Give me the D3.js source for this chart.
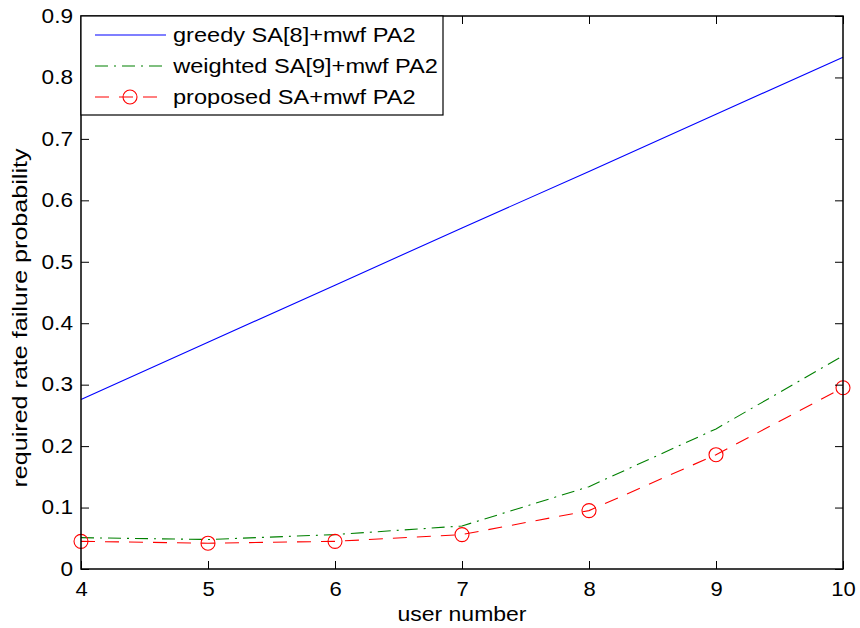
<!DOCTYPE html>
<html><head><meta charset="utf-8">
<script src="https://cdn.jsdelivr.net/npm/d3@7"></script>
<style>
body{margin:0;background:#fff;}
svg{display:block;}
text{font-family:"Liberation Sans",Arial,Helvetica,sans-serif;fill:#000;}
</style></head>
<body>
<svg id="chart" width="860" height="628"></svg>
<script>
const users = [4, 5, 6, 7, 8, 9, 10];
const greedy = [0.276, 0.369, 0.462, 0.555, 0.647, 0.740, 0.833];
const weighted = [0.051, 0.048, 0.056, 0.070, 0.134, 0.228, 0.347];
const proposed = [0.045, 0.042, 0.045, 0.056, 0.095, 0.186, 0.295];
const xTicks = [4, 5, 6, 7, 8, 9, 10];
const yTicks = [0, 0.1, 0.2, 0.3, 0.4, 0.5, 0.6, 0.7, 0.8, 0.9];
const seriesNames = ["greedy SA[8]+mwf PA2", "weighted SA[9]+mwf PA2", "proposed SA+mwf PA2"];
const xTitle = "user number";
const yTitle = "required rate failure probability";

const svg = d3.select("#chart");
const L = 81, R = 843, T = 16, B = 569;
const x = d3.scaleLinear().domain([4, 10]).range([L, R]);
const y = d3.scaleLinear().domain([0, 0.9]).range([B, T]);

const stretch = (sel, s, origin) => sel
  .style("transform-box", "fill-box")
  .style("transform-origin", origin)
  .style("transform", `scaleX(${s})`);

// series lines
const line = d3.line().x((d, i) => x(users[i])).y(d => y(d));
const styles = [
  {data: greedy, color: "#0000ff", dash: null},
  {data: weighted, color: "#008000", dash: "13,6,2,6"},
  {data: proposed, color: "#ff0000", dash: "14,10"}
];
const plot = svg.append("g");
styles.forEach(s => {
  plot.append("path").datum(s.data).attr("d", line)
    .attr("fill", "none").attr("stroke", s.color).attr("stroke-width", 1.1)
    .attr("stroke-dasharray", s.dash);
});
plot.selectAll("circle.m").data(proposed).join("circle").attr("class", "m")
  .attr("cx", (d, i) => x(users[i])).attr("cy", d => y(d)).attr("r", 7)
  .attr("fill", "none").attr("stroke", "#ff0000").attr("stroke-width", 1.1);

// axes
const axB = svg.append("g").attr("transform", `translate(0,${B})`)
  .call(d3.axisBottom(x).tickValues(xTicks).tickSize(-8).tickPadding(13).tickFormat(d3.format("d")));
const axL = svg.append("g").attr("transform", `translate(${L},0)`)
  .call(d3.axisLeft(y).tickValues(yTicks).tickSize(-8).tickPadding(8).tickFormat(d => d === 0 ? "0" : d3.format(".1f")(d)));
const axT = svg.append("g").attr("transform", `translate(0,${T})`)
  .call(d3.axisTop(x).tickValues(xTicks).tickSize(-8).tickFormat(""));
const axR = svg.append("g").attr("transform", `translate(${R},0)`)
  .call(d3.axisRight(y).tickValues(yTicks).tickSize(-8).tickFormat(""));
[axB, axL, axT, axR].forEach(a => {
  a.select(".domain").remove();
  a.selectAll("line").attr("stroke", "#000").attr("stroke-width", 1);
  a.selectAll("text").attr("font-size", 19.5).attr("font-family", "Liberation Sans, Arial, sans-serif").attr("fill", "#000");
});
stretch(axB.selectAll("text"), 1.13, "center center");
stretch(axL.selectAll("text"), 1.16, "right center");
svg.append("rect").attr("x", L).attr("y", T).attr("width", R - L).attr("height", B - T)
  .attr("fill", "none").attr("stroke", "#000").attr("stroke-width", 1.5);

// titles
svg.append("text").attr("x", (L + R) / 2).attr("y", 621).attr("text-anchor", "middle")
  .attr("font-size", 20.5).attr("textLength", 129).attr("lengthAdjust", "spacingAndGlyphs").text(xTitle);
svg.append("text").attr("transform", "translate(27,318) rotate(-90)").attr("text-anchor", "middle")
  .attr("font-size", 20.5).attr("textLength", 339).attr("lengthAdjust", "spacingAndGlyphs").text(yTitle);

// legend
const lg = svg.append("g");
lg.append("rect").attr("x", L).attr("y", T).attr("width", 362).attr("height", 99)
  .attr("fill", "#fff").attr("stroke", "#000").attr("stroke-width", 1.2);
const rowY = [35, 66, 97];
styles.forEach((s, i) => {
  lg.append("line").attr("x1", 95).attr("x2", 166).attr("y1", rowY[i]).attr("y2", rowY[i])
    .attr("stroke", s.color).attr("stroke-width", 1.1).attr("stroke-dasharray", s.dash);
  lg.append("text").attr("x", 173).attr("y", rowY[i]).attr("dy", "0.35em")
    .attr("font-size", 20.5).text(seriesNames[i]);
});
lg.append("circle").attr("cx", 130).attr("cy", rowY[2]).attr("r", 7)
  .attr("fill", "none").attr("stroke", "#ff0000").attr("stroke-width", 1.1);
stretch(lg.selectAll("text"), 1.15, "left center");
</script>
</body></html>
